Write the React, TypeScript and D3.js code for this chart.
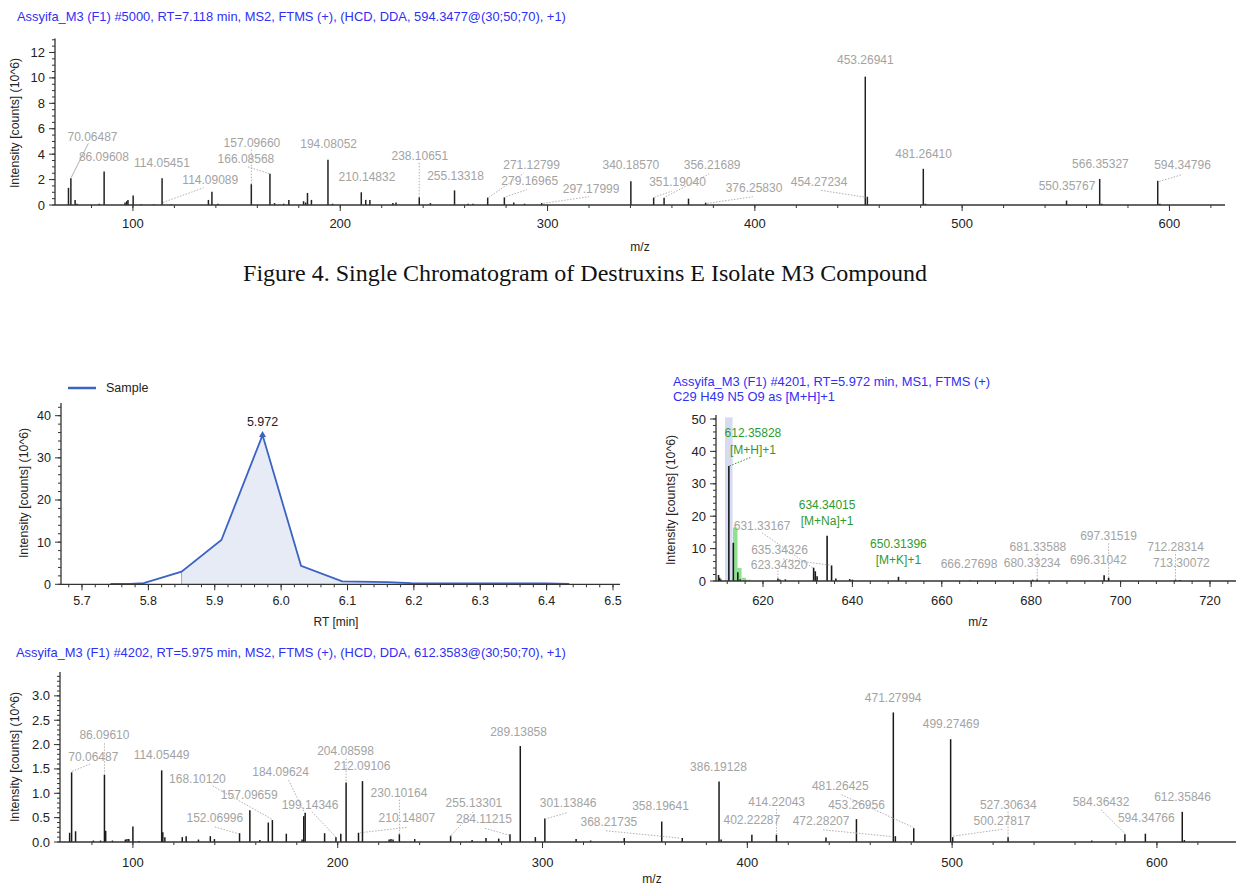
import React from 'react';
import * as d3 from 'd3';

type Peak = [number, number];
type Ann = { t: string; x: number; y: number; l?: [number, number, number, number]; c?: string; solid?: boolean };

// ---------- Top MS2 spectrum (#5000) ----------
const topTitle = 'Assyifa_M3 (F1) #5000, RT=7.118 min, MS2, FTMS (+), (HCD, DDA, 594.3477@(30;50;70), +1)';
const topPeaks: Peak[] = [
  [68.9, 1.35], [70.06, 2.1], [72.1, 0.4], [73.0, 0.1], [83.7, 0.1], [86.1, 2.64], [96.2, 0.2], [97.0, 0.3],
  [97.6, 0.4], [100.1, 0.74], [104, 0.05], [110, 0.05], [114.05, 2.1], [118.5, 0.05], [136.4, 0.4], [138.1, 1.05],
  [141, 0.1], [157.1, 1.64], [166.09, 2.45], [168.3, 0.15], [172.7, 0.1], [175.2, 0.4], [182.3, 0.3], [183.3, 0.2],
  [184.2, 0.95], [186.1, 0.4], [194.08, 3.56], [196.3, 0.1], [210.15, 1.0], [212.3, 0.4], [214.3, 0.4], [225.4, 0.15],
  [226.9, 0.2], [238.11, 0.6], [243.5, 0.15], [255.13, 1.15], [261.7, 0.1], [264, 0.1], [271.13, 0.58], [279.17, 0.6],
  [283.7, 0.2], [288.9, 0.1], [297.18, 0.15], [340.19, 1.86], [351.19, 0.58], [356.22, 0.58], [368.0, 0.5],
  [376.26, 0.18], [453.27, 10.1], [454.27, 0.65], [481.26, 2.85], [482.3, 0.1], [550.36, 0.35], [566.35, 2.05],
  [567.4, 0.1], [594.35, 1.9], [595.4, 0.1],
];
const topLabels: Ann[] = [
  { t: '70.06487', x: 80.5, y: 5.4, l: [70.2, 2.15, 78.5, 4.85], solid: true },
  { t: '86.09608', x: 86.0, y: 3.8 },
  { t: '114.05451', x: 114.0, y: 3.3 },
  { t: '114.09089', x: 137.3, y: 2.0, l: [114.5, 0.2, 134, 1.35] },
  { t: '157.09660', x: 157.4, y: 4.9, l: [157.1, 1.64, 157.1, 4.4] },
  { t: '166.08568', x: 154.5, y: 3.6, l: [155.5, 3.0, 166.1, 2.45] },
  { t: '194.08052', x: 194.4, y: 4.8 },
  { t: '210.14832', x: 212.9, y: 2.25 },
  { t: '238.10651', x: 238.4, y: 3.9, l: [238.1, 0.6, 238.1, 3.4] },
  { t: '255.13318', x: 255.6, y: 2.3 },
  { t: '271.12799', x: 292.3, y: 3.2, l: [271.6, 0.6, 288.5, 2.5] },
  { t: '279.16965', x: 291.4, y: 1.87, l: [280, 0.65, 290, 1.2] },
  { t: '297.17999', x: 321, y: 1.3, l: [298, 0.13, 320, 0.65] },
  { t: '340.18570', x: 340.2, y: 3.14 },
  { t: '351.19040', x: 362.7, y: 1.8, l: [351.5, 0.6, 360, 1.1] },
  { t: '356.21689', x: 379.4, y: 3.14, l: [357, 0.65, 378, 2.45] },
  { t: '376.25830', x: 399.6, y: 1.33, l: [377, 0.13, 399, 0.65] },
  { t: '453.26941', x: 453.3, y: 11.4 },
  { t: '454.27234', x: 431, y: 1.8, l: [432, 1.15, 453.9, 0.6] },
  { t: '481.26410', x: 481.4, y: 4.04 },
  { t: '550.35767', x: 550.6, y: 1.54 },
  { t: '566.35327', x: 566.7, y: 3.24 },
  { t: '594.34796', x: 606.3, y: 3.14, l: [595.1, 1.86, 606.3, 2.4] },
];

const captionText = 'Figure 4. Single Chromatogram of Destruxins E Isolate M3 Compound';

// ---------- Chromatogram ----------
const chromRT = [5.743, 5.773, 5.793, 5.85, 5.91, 5.972, 6.03, 6.092, 6.16, 6.196, 6.31, 6.40, 6.434];
const chromI = [0.1, 0.1, 0.3, 3.0, 10.5, 35.4, 4.4, 0.7, 0.5, 0.3, 0.2, 0.2, 0.1];
const chromIntegration = [5.85, 6.434];
const chromApex = { rt: 5.972, i: 35.4, label: '5.972' };
const legendName = 'Sample';

// ---------- MS1 spectrum (#4201) ----------
const ms1Title1 = 'Assyifa_M3 (F1) #4201, RT=5.972 min, MS1, FTMS (+)';
const ms1Title2 = 'C29 H49 N5 O9 as [M+H]+1';
const ms1Peaks: Peak[] = [
  [610.05, 1.85], [610.3, 1.0], [610.6, 0.5], [612.36, 35.5], [613.36, 11.8], [614.36, 2.7], [614.9, 0.5],
  [623.34, 0.8], [623.8, 0.5], [625.0, 0.5], [631.33, 4.1], [631.7, 3.0], [632.1, 1.5], [634.34, 14.0],
  [635.34, 4.8], [636.3, 0.8], [639.4, 0.6], [640.0, 0.4], [650.31, 1.3], [666.28, 0.15], [680.33, 0.4],
  [681.34, 0.5], [696.31, 1.75], [697.32, 1.0], [712.28, 0.4], [713.3, 0.3],
];
const isotopeMz = [613.3, 614.2, 615.2, 616.2];
const isotopeI = [16.5, 4.0, 1.0, 0.4];
const highlightBand = [611.5, 613.2];
const ms1Labels: Ann[] = [
  { t: '612.35828', x: 617.75, y: 45.6, c: 'g' },
  { t: '[M+H]+1', x: 617.75, y: 40.6, c: 'g', l: [612.5, 35.5, 617.5, 38.3] },
  { t: '631.33167', x: 619.8, y: 17.0, l: [619.8, 14.9, 631.3, 3.9] },
  { t: '635.34326', x: 623.7, y: 9.6, l: [624.5, 6.8, 635.0, 4.9] },
  { t: '623.34320', x: 623.6, y: 5.15, l: [623.34, 0.9, 623.34, 3.4] },
  { t: '634.34015', x: 634.34, y: 23.5, c: 'g' },
  { t: '[M+Na]+1', x: 634.34, y: 18.6, c: 'g' },
  { t: '650.31396', x: 650.3, y: 11.4, c: 'g' },
  { t: '[M+K]+1', x: 650.3, y: 6.5, c: 'g' },
  { t: '666.27698', x: 666.1, y: 5.2 },
  { t: '680.33234', x: 680.2, y: 5.7 },
  { t: '681.33588', x: 681.5, y: 10.6, l: [681.34, 0.5, 681.34, 8.8] },
  { t: '696.31042', x: 695, y: 6.5 },
  { t: '697.31519', x: 697.3, y: 13.9, l: [697.32, 1.0, 697.32, 12.0] },
  { t: '712.28314', x: 712.3, y: 10.6, l: [712.28, 0.4, 712.28, 8.8] },
  { t: '713.30072', x: 713.6, y: 5.7 },
];

// ---------- Bottom MS2 spectrum (#4202) ----------
const botTitle = 'Assyifa_M3 (F1) #4202, RT=5.975 min, MS2, FTMS (+), (HCD, DDA, 612.3583@(30;50;70), +1)';
const botPeaks: Peak[] = [
  [69.1, 0.19], [70.07, 1.43], [72.0, 0.22], [80.7, 0.03], [84.2, 0.03], [86.1, 1.38], [86.7, 0.23], [90, 0.03],
  [96.3, 0.05], [97.1, 0.06], [98.0, 0.06], [100.0, 0.32], [103, 0.02], [114.05, 1.47], [114.6, 0.2], [115.6, 0.1],
  [124.1, 0.1], [126, 0.12], [132, 0.05], [137.8, 0.12], [139.8, 0.06], [152.07, 0.18], [157.1, 0.65], [162, 0.04],
  [166.1, 0.4], [168.1, 0.45], [174.9, 0.17], [182.6, 0.05], [183.4, 0.53], [184.1, 0.6], [193.6, 0.18],
  [199.14, 0.1], [201.5, 0.17], [204.09, 1.22], [210.15, 0.19], [212.09, 1.25], [225.1, 0.05], [226.0, 0.06],
  [227.0, 0.05], [230.1, 0.16], [237.6, 0.06], [255.13, 0.13], [265.6, 0.04], [272.4, 0.08], [278.6, 0.07],
  [284.11, 0.16], [289.14, 1.97], [296.5, 0.1], [301.14, 0.48], [316.4, 0.06], [323.5, 0.03], [339.9, 0.08],
  [358.2, 0.42], [368.22, 0.08], [386.19, 1.24], [387.2, 0.05], [402.22, 0.15], [414.22, 0.15], [438.4, 0.09],
  [453.27, 0.47], [471.28, 2.66], [472.28, 0.12], [481.26, 0.28], [499.27, 2.11], [500.28, 0.1], [527.31, 0.1],
  [568.2, 0.03], [584.36, 0.16], [594.35, 0.17], [612.36, 0.62], [613.4, 0.04],
];
const botLabels: Ann[] = [
  { t: '86.09610', x: 86.1, y: 2.2, l: [86.1, 1.38, 86.1, 2.05] },
  { t: '70.06487', x: 80.7, y: 1.75, l: [70.3, 1.45, 79, 1.6] },
  { t: '114.05449', x: 114.0, y: 1.79 },
  { t: '168.10120', x: 131.5, y: 1.29, l: [139, 1.15, 167.8, 0.47] },
  { t: '157.09659', x: 156.8, y: 0.97 },
  { t: '184.09624', x: 172.1, y: 1.44, l: [176, 1.27, 183.6, 0.62] },
  { t: '199.14346', x: 186.5, y: 0.77, l: [187.5, 0.62, 199.1, 0.1] },
  { t: '152.06996', x: 140, y: 0.49, l: [140, 0.31, 151.5, 0.17] },
  { t: '204.08598', x: 203.8, y: 1.87, l: [204.09, 1.25, 204.09, 1.75] },
  { t: '212.09106', x: 211.9, y: 1.56 },
  { t: '230.10164', x: 229.9, y: 1.01, l: [230.1, 0.16, 230.1, 0.87] },
  { t: '210.14807', x: 233.8, y: 0.5, l: [211, 0.19, 233.6, 0.3] },
  { t: '255.13301', x: 266.5, y: 0.81, l: [266.2, 0.62, 254.8, 0.11] },
  { t: '284.11215', x: 271.4, y: 0.47, l: [271.9, 0.28, 283.8, 0.14] },
  { t: '289.13858', x: 288.3, y: 2.26 },
  { t: '301.13846', x: 312.5, y: 0.81, l: [301.2, 0.47, 311.8, 0.6] },
  { t: '368.21735', x: 332.4, y: 0.42, l: [331, 0.23, 367.1, 0.08] },
  { t: '358.19641', x: 357.6, y: 0.75 },
  { t: '386.19128', x: 385.9, y: 1.55 },
  { t: '414.22043', x: 414.3, y: 0.82, l: [414.22, 0.15, 414.22, 0.7] },
  { t: '402.22287', x: 402.2, y: 0.45 },
  { t: '481.26425', x: 445.4, y: 1.16, l: [446, 0.97, 481, 0.3] },
  { t: '453.26956', x: 453.3, y: 0.77 },
  { t: '472.28207', x: 436, y: 0.43, l: [437, 0.25, 471, 0.11] },
  { t: '471.27994', x: 471.2, y: 2.97 },
  { t: '499.27469', x: 499.5, y: 2.42 },
  { t: '527.30634', x: 527.4, y: 0.77, l: [527.31, 0.1, 527.31, 0.65] },
  { t: '500.27817', x: 524.3, y: 0.44, l: [500.5, 0.12, 524.4, 0.26] },
  { t: '584.36432', x: 572.7, y: 0.83, l: [572.7, 0.66, 584.7, 0.16] },
  { t: '594.34766', x: 594.8, y: 0.49 },
  { t: '612.35846', x: 612.5, y: 0.93 },
];

// ---------- styling ----------
const FONT = "'Liberation Sans', Arial, Helvetica, sans-serif";
const BLUE_TITLE = '#2f2ff5';
const GRAY = '#a3a3a3';
const GREEN = '#2f9a2f';
const AXIS = '#333';
const TITLE_FS = 12.9;
const LABEL_FS = 12;

function stepTicks(a: number, b: number, step: number): number[] {
  const out: number[] = [];
  const n0 = Math.ceil(a / step - 1e-9);
  for (let k = n0; k * step <= b + 1e-9; k++) out.push(+(k * step).toFixed(6));
  return out;
}

type Lin = d3.ScaleLinear<number, number>;

function Axes({ x, y, axX0, axX1, axYTop, xMajor, xMinor, yMajor, yMinor, xFmt, yFmt, xLabDy, fs }: {
  x: Lin; y: Lin; axX0: number; axX1: number; axYTop: number; xMajor: number; xMinor: number; yMajor: number; yMinor: number;
  xFmt: (v: number) => string; yFmt: (v: number) => string; xLabDy: number; fs: number;
}) {
  const y0 = y(0);
  const xd0 = x.invert(axX0), xd1 = x.invert(axX1);
  const yd1 = y.invert(axYTop);
  const xMaj = stepTicks(xd0, xd1, xMajor);
  const xMin = stepTicks(xd0, xd1, xMinor);
  const yMaj = stepTicks(0, yd1, yMajor);
  const yMin = stepTicks(0, yd1, yMinor);
  return (
    <g>
      <line x1={axX0} x2={axX1} y1={y0} y2={y0} stroke={AXIS} strokeWidth={1.3} />
      <line x1={axX0} x2={axX0} y1={y0} y2={axYTop} stroke={AXIS} strokeWidth={1.3} />
      {xMin.map((v, i) => <line key={'xm' + i} x1={x(v)} x2={x(v)} y1={y0} y2={y0 + 3} stroke={AXIS} strokeWidth={1} />)}
      {xMaj.map((v, i) => (
        <g key={'xM' + i}>
          <line x1={x(v)} x2={x(v)} y1={y0} y2={y0 + 6} stroke={AXIS} strokeWidth={1} />
          <text x={x(v)} y={y0 + xLabDy} textAnchor="middle" dy="0.35em" fontSize={fs} fill="#222" fontFamily={FONT}>{xFmt(v)}</text>
        </g>
      ))}
      {yMin.map((v, i) => <line key={'ym' + i} x1={axX0 - 3} x2={axX0} y1={y(v)} y2={y(v)} stroke={AXIS} strokeWidth={1} />)}
      {yMaj.map((v, i) => (
        <g key={'yM' + i}>
          <line x1={axX0 - 6} x2={axX0} y1={y(v)} y2={y(v)} stroke={AXIS} strokeWidth={1} />
          <text x={axX0 - 10} y={y(v)} textAnchor="end" dy="0.35em" fontSize={fs} fill="#222" fontFamily={FONT}>{yFmt(v)}</text>
        </g>
      ))}
    </g>
  );
}

function Peaks({ x, y, peaks, color = '#1a1a1a', w = 1.5 }: { x: Lin; y: Lin; peaks: Peak[]; color?: string; w?: number }) {
  return (
    <g>
      {peaks.map(([m, v], i) => (
        <line key={i} x1={x(m)} x2={x(m)} y1={y(0)} y2={y(v)} stroke={color} strokeWidth={w} />
      ))}
    </g>
  );
}

function Labels({ x, y, labels, fs = LABEL_FS }: { x: Lin; y: Lin; labels: Ann[]; fs?: number }) {
  return (
    <g>
      {labels.map((a, i) => {
        const col = a.c === 'g' ? GREEN : GRAY;
        return (
          <g key={i}>
            {a.l && (
              <line x1={x(a.l[0])} y1={y(a.l[1])} x2={x(a.l[2])} y2={y(a.l[3])}
                stroke={a.c === 'g' ? GREEN : '#b0b0b0'} strokeWidth={1}
                strokeDasharray={a.solid ? undefined : '1.5,1.5'} />
            )}
            <text x={x(a.x)} y={y(a.y)} dy="0.35em" textAnchor="middle" fontSize={fs} fill={col} fontFamily={FONT}>{a.t}</text>
          </g>
        );
      })}
    </g>
  );
}

function YTitle({ x, y, fs = 12.3 }: { x: number; y: number; fs?: number }) {
  return (
    <text transform={`translate(${x},${y}) rotate(-90)`} textAnchor="middle" dy="0.35em" fontSize={fs} fill="#222" fontFamily={FONT}>
      Intensity [counts] (10^6)
    </text>
  );
}

export default function App() {
  // Top
  const xT = d3.scaleLinear().domain([62.4, 626.8]).range([55, 1225]);
  const yT = d3.scaleLinear().domain([0, 13.1]).range([205, 38.5]);
  // Chromatogram
  const xC = d3.scaleLinear().domain([5.7, 6.5]).range([82, 613]);
  const yC = d3.scaleLinear().domain([0, 40]).range([584.3, 415.7]);
  // MS1
  const xM = d3.scaleLinear().domain([620, 720]).range([763, 1210]);
  const yM = d3.scaleLinear().domain([0, 50]).range([581, 419]);
  // Bottom
  const xB = d3.scaleLinear().domain([64.4, 638.6]).range([60, 1236]);
  const yB = d3.scaleLinear().domain([0, 3.49]).range([842, 672]);

  const chromPts = chromRT.map((r, i) => [r, chromI[i]] as [number, number]);
  const lineGen = d3.line<[number, number]>().x(d => xC(d[0])).y(d => yC(d[1]));
  const interp = (r: number) => {
    for (let i = 0; i < chromRT.length - 1; i++) {
      if (r >= chromRT[i] && r <= chromRT[i + 1]) {
        const t = (r - chromRT[i]) / (chromRT[i + 1] - chromRT[i]);
        return chromI[i] + t * (chromI[i + 1] - chromI[i]);
      }
    }
    return 0;
  };
  const fillPts: [number, number][] = [
    [chromIntegration[0], interp(chromIntegration[0])],
    ...chromPts.filter(p => p[0] > chromIntegration[0] && p[0] < chromIntegration[1]),
    [chromIntegration[1], interp(chromIntegration[1])],
  ];
  const areaGen = d3.area<[number, number]>().x(d => xC(d[0])).y0(yC(0)).y1(d => yC(d[1]));

  const fmt0 = (v: number) => String(Math.round(v));
  const fmt1 = (v: number) => v.toFixed(1);

  return (
    <svg width={1236} height={886} style={{ position: 'absolute', left: 0, top: 0, background: '#fff' }}>
      <rect x={0} y={0} width={1236} height={886} fill="#fff" />

      {/* ===== Top MS2 ===== */}
      <text x={17} y={21} fontSize={TITLE_FS} fill={BLUE_TITLE} fontFamily={FONT}>{topTitle}</text>
      <YTitle x={15} y={123} />
      <Peaks x={xT} y={yT} peaks={topPeaks} color="#222" />
      <Axes x={xT} y={yT} axX0={55} axX1={1225} axYTop={38.5} xMajor={100} xMinor={20} yMajor={2} yMinor={0.5}
        xFmt={fmt0} yFmt={fmt0} xLabDy={18} fs={13} />
      <Labels x={xT} y={yT} labels={topLabels} />
      <text x={640} y={247} dy="0.35em" textAnchor="middle" fontSize={12} fill="#222" fontFamily={FONT}>m/z</text>

      {/* Caption */}
      <text x={585} y={273} dy="0.35em" textAnchor="middle" fontSize={24} fill="#111"
        fontFamily="'Liberation Serif', 'Times New Roman', serif">{captionText}</text>

      {/* ===== Chromatogram ===== */}
      <line x1={68} x2={96} y1={388} y2={388} stroke="#3b63c4" strokeWidth={2.5} />
      <text x={106} y={388} dy="0.35em" fontSize={12.5} fill="#222" fontFamily={FONT}>{legendName}</text>
      <path d={areaGen(fillPts) || ''} fill="#e7ebf6" />
      <line x1={xC(chromIntegration[0])} x2={xC(chromIntegration[0])} y1={yC(0)} y2={yC(interp(chromIntegration[0]))} stroke="#aaa" strokeWidth={1} />
      <path d={lineGen(chromPts) || ''} fill="none" stroke="#3b63c4" strokeWidth={1.8} />
      <path d={`M${xC(chromApex.rt)},${yC(chromApex.i) - 4} l-3.5,6 l7,0 Z`} fill="#3b63c4" />
      <text x={xC(chromApex.rt)} y={yC(chromApex.i) - 13} textAnchor="middle" fontSize={12.5} fill="#222" fontFamily={FONT} dy="0.35em">{chromApex.label}</text>
      <Axes x={xC} y={yC} axX0={61} axX1={620} axYTop={403} xMajor={0.1} xMinor={0.02} yMajor={10} yMinor={2}
        xFmt={fmt1} yFmt={fmt0} xLabDy={16} fs={12.5} />
      <YTitle x={24} y={493} />
      <text x={336} y={622} dy="0.35em" textAnchor="middle" fontSize={12} fill="#222" fontFamily={FONT}>RT [min]</text>

      {/* ===== MS1 ===== */}
      <text x={673} y={386} fontSize={TITLE_FS} fill={BLUE_TITLE} fontFamily={FONT}>{ms1Title1}</text>
      <text x={673} y={401} fontSize={TITLE_FS} fill={BLUE_TITLE} fontFamily={FONT}>{ms1Title2}</text>
      <rect x={xM(highlightBand[0])} width={xM(highlightBand[1]) - xM(highlightBand[0])} y={yM(50.5)} height={yM(0) - yM(50.5)} fill="#d6dbf1" />
      {isotopeMz.map((m, i) => (
        <rect key={i} x={xM(m)} width={xM(m + 1) - xM(m)} y={yM(isotopeI[i])} height={yM(0) - yM(isotopeI[i])} fill="#8fe08f" />
      ))}
      <Peaks x={xM} y={yM} peaks={ms1Peaks} color="#1a1a1a" w={1.6} />
      <Axes x={xM} y={yM} axX0={716} axX1={1236} axYTop={415} xMajor={20} xMinor={4} yMajor={10} yMinor={2}
        xFmt={fmt0} yFmt={fmt0} xLabDy={19} fs={13} />
      <Labels x={xM} y={yM} labels={ms1Labels} />
      <YTitle x={671} y={500} />
      <text x={978} y={622} dy="0.35em" textAnchor="middle" fontSize={12} fill="#222" fontFamily={FONT}>m/z</text>

      {/* ===== Bottom MS2 ===== */}
      <text x={16} y={657} fontSize={TITLE_FS} fill={BLUE_TITLE} fontFamily={FONT}>{botTitle}</text>
      <YTitle x={15} y={757} />
      <Peaks x={xB} y={yB} peaks={botPeaks} color="#1a1a1a" />
      <Axes x={xB} y={yB} axX0={60} axX1={1236} axYTop={672} xMajor={100} xMinor={20} yMajor={0.5} yMinor={0.1}
        xFmt={fmt0} yFmt={fmt1} xLabDy={20} fs={13} />
      <Labels x={xB} y={yB} labels={botLabels} />
      <text x={652} y={879} dy="0.35em" textAnchor="middle" fontSize={12} fill="#222" fontFamily={FONT}>m/z</text>
    </svg>
  );
}
